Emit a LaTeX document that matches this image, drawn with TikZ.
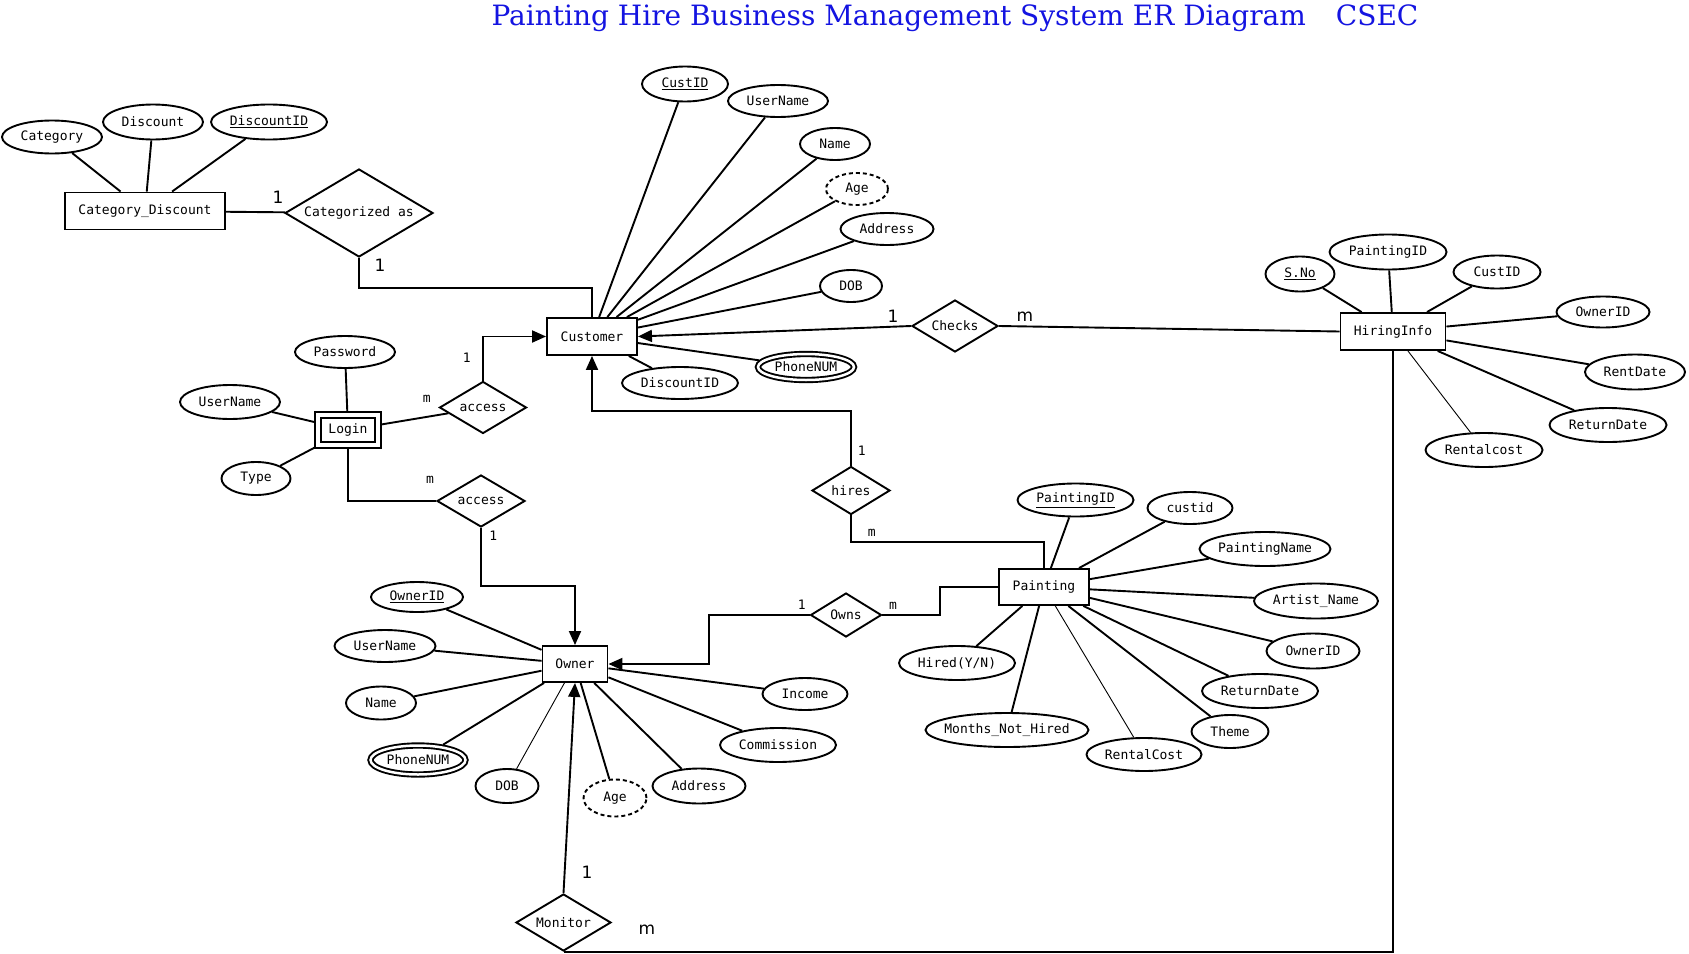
\documentclass[tikz,border=0pt]{standalone}
\usepackage{fontspec}
\setmainfont{DejaVu Serif}
\setsansfont{DejaVu Sans}
\setmonofont{DejaVu Sans Mono}
\usepackage{tikz}
\usetikzlibrary{arrows.meta,shapes.geometric}
\definecolor{titleblue}{RGB}{20,20,225}

\begin{document}
\begin{tikzpicture}[
    x=1pt, y=-1pt,
    font=\fontsize{13}{15}\selectfont\ttfamily,
    line width=1.9pt,
    >={Triangle[length=14pt,width=12pt]},
    arrow/.style={->},
    sz/.style 2 args={minimum width=#1pt, minimum height=#2pt},
    entity/.style={draw, inner sep=0pt},
    weakentity/.style={draw, double, double distance=3.5pt, inner sep=0pt, outer sep=3.7pt},
    attr/.style={draw, ellipse, inner sep=0pt, inner xsep=-6pt},
    derived/.style={attr, dash pattern=on 4pt off 3pt},
    multi/.style={attr, double, double distance=2.5pt, outer sep=3.2pt},
    relation/.style={draw, diamond, aspect=2, inner sep=0pt},
    card/.style={font=\fontsize{13}{15}\selectfont\ttfamily},
    bigcard/.style={font=\fontsize{17}{19}\selectfont\sffamily},
    thinline/.style={line width=0.9pt},
    title/.style={font=\fontsize{28}{32}\selectfont\rmfamily, text=titleblue},
]
\fill[white] (0,0) rectangle (1689,953);
\useasboundingbox (0,0) rectangle (1689,953);

\node[title] (ttl) at (955,18)
  {Painting Hire Business Management System ER Diagram\hspace{30pt}CSEC};

%% ── Category_Discount ─────────────────────────────────────────
\node[entity, sz={160}{37}]   (catdisc)  at (145,211) {Category\_Discount};
\node[attr, sz={100}{33}]     (category) at (52,137)  {Category};
\node[attr, sz={100}{35}]     (discount) at (153,122) {Discount};
\node[attr, sz={116}{35}]     (discid)   at (269,122) {\underline{DiscountID}};
\node[relation, sz={148}{88}] (catas)    at (359,213) {Categorized as};

\draw (category) -- (catdisc);
\draw (discount) -- (catdisc);
\draw (discid)   -- (catdisc);
\draw (catdisc)  -- (catas);
\node[bigcard] (lcatas1) at (278,197) {1};
\node[bigcard] (lcatas2) at (380,265) {1};

%% ── Customer ──────────────────────────────────────────────────
\node[entity, sz={90}{37}]  (cust)   at (592,336.5) {Customer};
\node[attr, sz={86}{35}]    (custid) at (685,84)    {\underline{CustID}};
\node[attr, sz={100}{32}]   (cuname) at (778,101)   {UserName};
\node[attr, sz={70}{32}]    (cname)  at (835,144)   {Name};
\node[derived, sz={62}{32}] (cage)   at (857,189)   {Age};
\node[attr, sz={93}{32}]    (caddr)  at (887,229)   {Address};
\node[attr, sz={62}{32}]    (cdob)   at (851,286)   {DOB};
\node[multi, sz={96}{26}]   (cphone) at (806,367)   {PhoneNUM};
\node[attr, sz={116}{32}]   (cdisc)  at (680,383)   {DiscountID};

\draw (custid) -- (cust);
\draw (cuname) -- (cust);
\draw (cname)  -- (cust);
\draw (cage)   -- (cust);
\draw (caddr)  -- (cust);
\draw (cdob)   -- (cust);
\draw (cphone) -- (cust);
\draw (cdisc)  -- (cust);

\coordinate (catbend) at (359,287.6);
\draw (catas.south) -- (catbend) -| (cust.north);

%% ── Checks / HiringInfo ───────────────────────────────────────
\node[relation, sz={86}{52}] (checks) at (955,326)    {Checks};
\node[entity, sz={105}{37}]  (hiring) at (1393,331.5) {HiringInfo};
\node[attr, sz={69}{35}]     (hsno)   at (1300,274)   {\underline{S.No}};
\node[attr, sz={117}{35}]    (hpaint) at (1388,252)   {PaintingID};
\node[attr, sz={87}{33}]     (hcust)  at (1497,272)   {CustID};
\node[attr, sz={93}{31}]     (howner) at (1603,312)   {OwnerID};
\node[attr, sz={100}{35}]    (hrent)  at (1635,372)   {RentDate};
\node[attr, sz={117}{34}]    (hret)   at (1608,425)   {ReturnDate};
\node[attr, sz={117}{34}]    (hcost)  at (1484,450)   {Rentalcost};

\draw (hsno)   -- (hiring);
\draw (hpaint) -- (hiring);
\draw (hcust)  -- (hiring);
\draw (howner) -- (hiring);
\draw (hrent)  -- (hiring);
\draw (hret)   -- (hiring);
\draw[thinline] (hcost) -- (hiring);

\draw[arrow] (checks.west) -- (cust.east);
\draw (checks.east) -- (hiring.west);
\node[bigcard] (lchecks1) at (893,316)  {1};
\node[bigcard] (lchecks2) at (1025,317) {m};

%% ── Login ─────────────────────────────────────────────────────
\node[weakentity, sz={60}{30}] (login)   at (348,430)   {Login};
\node[attr, sz={100}{32}]      (passwd)  at (345,352)   {Password};
\node[attr, sz={100}{34}]      (luname)  at (230,402)   {UserName};
\node[attr, sz={69}{33}]       (ltype)   at (256,478.5) {Type};
\node[relation, sz={87}{52}]   (access1) at (483,407.5) {access};
\node[relation, sz={88}{52}]   (access2) at (481,501)   {access};

\draw (passwd) -- (login);
\draw (luname) -- (login);
\draw (ltype)  -- (login);
\draw (login)  -- (access1);
\draw[arrow] (access1.north) |- (cust.west);
\draw (login.south) |- (access2.west);
\node[card] (lacc1a) at (466.7,357.3) {1};
\node[card] (lacc1b) at (426.7,399.3) {m};
\node[card] (lacc2a) at (430,480)     {m};
\node[card] (lacc2b) at (493.3,536)   {1};

%% ── hires / Painting ──────────────────────────────────────────
\node[relation, sz={78}{48}] (hires)    at (851,490.5)  {hires};
\node[entity, sz={90}{36}]   (painting) at (1044,587)   {Painting};
\node[attr, sz={116}{33}]    (ppaint)   at (1075.5,500) {\underline{PaintingID}};
\node[attr, sz={85}{32}]     (pcust)    at (1190,508)   {custid};
\node[attr, sz={131}{34}]    (pname)    at (1265,549)   {PaintingName};
\node[attr, sz={124}{35}]    (partist)  at (1316,601)   {Artist\_Name};
\node[attr, sz={93}{35}]     (powner)   at (1313,651)   {OwnerID};
\node[attr, sz={116}{34}]    (pret)     at (1260,691)   {ReturnDate};
\node[attr, sz={77}{33}]     (ptheme)   at (1230,731.5) {Theme};
\node[attr, sz={115}{33}]    (pcost)    at (1144,754.5) {RentalCost};
\node[attr, sz={163}{34}]    (pmonths)  at (1007,730)   {Months\_Not\_Hired};
\node[attr, sz={116}{34}]    (phired)   at (957,663)    {Hired(Y/N)};

\draw (ppaint)  -- (painting);
\draw (pcust)   -- (painting);
\draw (pname)   -- (painting);
\draw (partist) -- (painting);
\draw (powner)  -- (painting);
\draw (pret)    -- (painting);
\draw (ptheme)  -- (painting);
\draw[thinline] (pcost) -- (painting);
\draw (pmonths) -- (painting);
\draw (phired)  -- (painting);

\coordinate (hirebend1) at (851,410.7);
\coordinate (hirebend2) at (851,541.7);
\draw[arrow] (hires.north) -- (hirebend1) -| (cust.south);
\draw (hires.south) -- (hirebend2) -| (painting.north);
\node[card] (lhires1) at (861.7,450.7) {1};
\node[card] (lhires2) at (871.7,532.7) {m};

%% ── Owns / Owner ──────────────────────────────────────────────
\node[relation, sz={71}{44}] (owns)    at (846,615)   {Owns};
\node[entity, sz={65}{36}]   (owner)   at (575,664)   {Owner};
\node[attr, sz={92}{30}]     (oid)     at (417,597)   {\underline{OwnerID}};
\node[attr, sz={101}{32}]    (ouname)  at (385,646)   {UserName};
\node[attr, sz={70}{33}]     (oname)   at (381,703)   {Name};
\node[multi, sz={95}{29}]    (ophone)  at (418,760)   {PhoneNUM};
\node[attr, sz={63}{34}]     (odob)    at (507,786)   {DOB};
\node[derived, sz={63}{37}]  (oage)    at (615,798)   {Age};
\node[attr, sz={93}{35}]     (oaddr)   at (699,786)   {Address};
\node[attr, sz={116}{34}]    (ocomm)   at (778,745)   {Commission};
\node[attr, sz={85}{32}]     (oincome) at (805,694)   {Income};

\draw (oid)     -- (owner);
\draw (ouname)  -- (owner);
\draw (oname)   -- (owner);
\draw (ophone)  -- (owner);
\draw[thinline] (odob) -- (owner);
\draw (oage)    -- (owner);
\draw (oaddr)   -- (owner);
\draw (ocomm)   -- (owner);
\draw (oincome) -- (owner);

\coordinate (accbend) at (481,586);
\draw[arrow] (access2.south) -- (accbend) -| (owner.north);

\coordinate (ownbend1) at (709,615);
\coordinate (ownbend2) at (940,615);
\draw[arrow] (owns.west) -- (ownbend1) |- (owner.east);
\draw (owns.east) -- (ownbend2) |- (painting.west);
\node[card] (lowns1) at (801.7,605) {1};
\node[card] (lowns2) at (893,606)   {m};

%% ── Monitor ───────────────────────────────────────────────────
\node[relation, sz={95}{57}] (monitor) at (563.5,922.5) {Monitor};
\draw[arrow] (monitor.north) -- (owner.south);
\draw (monitor.south) -| (hiring.south);
\node[bigcard] (lmon1) at (587,872.5) {1};
\node[bigcard] (lmon2) at (647,930)   {m};

\end{tikzpicture}
\end{document}
